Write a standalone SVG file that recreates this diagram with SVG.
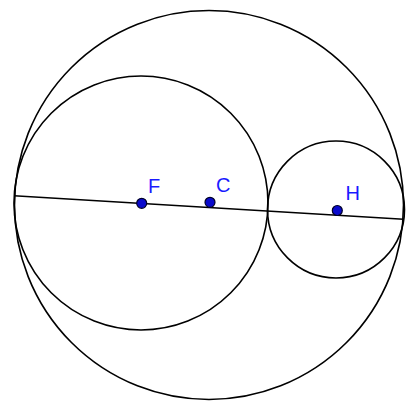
<svg xmlns="http://www.w3.org/2000/svg" width="409" height="401" viewBox="0 0 409 401">
<style>
.c{fill:none;stroke:#000;stroke-width:1.6}
.p{fill:#0a0acc;stroke:#000028;stroke-width:1.2}
.t{font-family:"Liberation Sans",Arial,sans-serif;font-size:20px;fill:#1a1aff}
</style>
<rect width="409" height="401" fill="#fff"/>
<g id="circles">
<circle id="big" class="c" cx="209" cy="205" r="194.5"/>
<circle id="circF" class="c" cx="141" cy="203" r="127"/>
<circle id="circH" class="c" cx="336" cy="209.5" r="68.5"/>
</g>
<g id="connectors">
<line class="c" x1="14" y1="195.7" x2="403.5" y2="219.3"/>
</g>
<g id="F"><circle class="p" cx="141.7" cy="203.3" r="5"/><text class="t" x="148" y="193">F</text></g>
<g id="C"><circle class="p" cx="210" cy="202.3" r="5"/><text class="t" x="216" y="192">C</text></g>
<g id="H"><circle class="p" cx="337.3" cy="210.5" r="5"/><text class="t" x="345.5" y="200">H</text></g>
</svg>
